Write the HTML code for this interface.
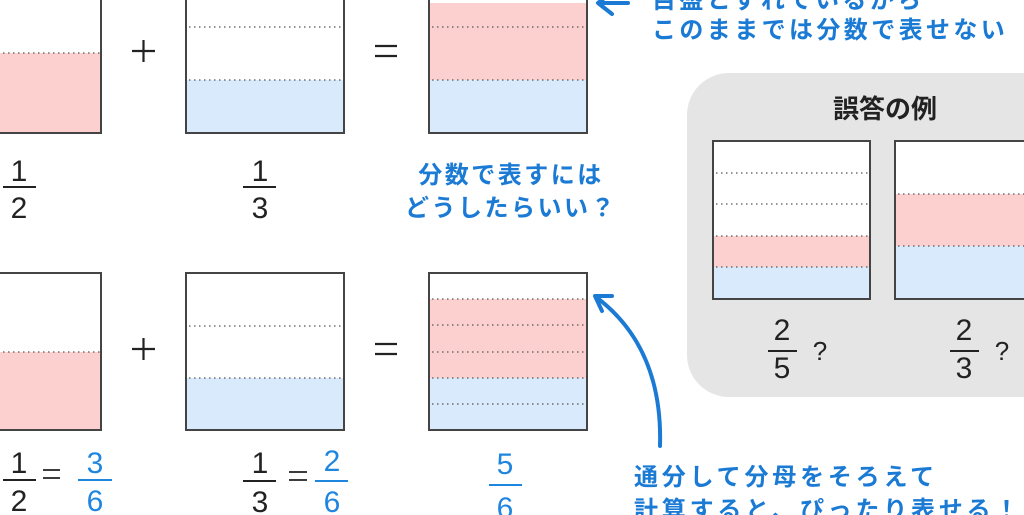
<!DOCTYPE html>
<html><head><meta charset="utf-8"><style>
html,body{margin:0;padding:0;background:#fff;}
svg{display:block;}
.j{font-family:"Liberation Sans","Noto Sans CJK JP",sans-serif;font-weight:bold;fill:#1a7ad4;font-size:24px;}
.n{font-family:"Liberation Sans",sans-serif;font-size:30px;fill:#222;text-anchor:middle;}
.b{fill:#1f86e0;}
</style></head><body>
<svg width="1024" height="515" viewBox="0 0 1024 515" xmlns="http://www.w3.org/2000/svg">
<defs>
<style>.d{stroke:#555;stroke-width:1.3;stroke-dasharray:1.5 3.5;}.bx{fill:none;stroke:#444;stroke-width:2;}</style>
</defs>
<!-- panel -->
<rect x="687" y="73" width="400" height="324" rx="42" fill="#e5e5e5"/>
<text x="885" y="118" text-anchor="middle" style="font-family:'Liberation Sans','Noto Sans CJK JP',sans-serif;font-weight:bold;font-size:26px;fill:#222">誤答の例</text>
<!-- box A -->
<rect x="713" y="141" width="157" height="158" fill="#fff"/>
<rect x="713" y="236" width="157" height="31" fill="#fdd0d0"/>
<rect x="713" y="267" width="157" height="32" fill="#d8eafb"/>
<line x1="716" y1="173" x2="868" y2="173" class="d"/>
<line x1="716" y1="204" x2="868" y2="204" class="d"/>
<line x1="716" y1="236" x2="868" y2="236" class="d"/>
<line x1="716" y1="267" x2="868" y2="267" class="d"/>
<rect x="713" y="141" width="157" height="158" class="bx"/>
<!-- box B -->
<rect x="895" y="141" width="157" height="158" fill="#fff"/>
<rect x="895" y="194" width="157" height="52" fill="#fdd0d0"/>
<rect x="895" y="246" width="157" height="53" fill="#d8eafb"/>
<line x1="898" y1="194" x2="1030" y2="194" class="d"/>
<line x1="898" y1="246" x2="1030" y2="246" class="d"/>
<rect x="895" y="141" width="157" height="158" class="bx"/>
<text class="n" x="782" y="340">2</text><line x1="768" y1="351" x2="797" y2="351" stroke="#222" stroke-width="2"/><text class="n" x="782" y="378">5</text>
<text x="820" y="360" style="font-family:'Liberation Sans',sans-serif;font-size:26px;fill:#222" text-anchor="middle">?</text>
<text class="n" x="964" y="340">2</text><line x1="950" y1="351" x2="979" y2="351" stroke="#222" stroke-width="2"/><text class="n" x="964" y="378">3</text>
<text x="1002" y="360" style="font-family:'Liberation Sans',sans-serif;font-size:26px;fill:#222" text-anchor="middle">?</text>

<!-- Row 1 -->
<rect x="-57" y="53" width="158" height="80" fill="#fdd0d0"/>
<line x1="-57" y1="53" x2="100" y2="53" class="d"/>
<rect x="-57" y="-24" width="158" height="157" class="bx"/>
<rect x="186" y="80" width="158" height="53" fill="#d8eafb"/>
<line x1="189" y1="27" x2="343" y2="27" class="d"/>
<line x1="189" y1="80" x2="343" y2="80" class="d"/>
<rect x="186" y="-24" width="158" height="157" class="bx"/>
<rect x="429" y="3" width="158" height="77" fill="#fdd0d0"/>
<rect x="429" y="80" width="158" height="53" fill="#d8eafb"/>
<line x1="432" y1="27" x2="586" y2="27" class="d"/>
<line x1="432" y1="80" x2="586" y2="80" class="d"/>
<rect x="429" y="-24" width="158" height="157" class="bx"/>
<path d="M132 51 H155 M143.5 40 V62" stroke="#222" stroke-width="2.2"/>
<path d="M375 46 H397 M375 56 H397" stroke="#222" stroke-width="2.2"/>
<text class="n" x="19" y="181">1</text><line x1="3" y1="187" x2="36" y2="187" stroke="#222" stroke-width="2"/><text class="n" x="19" y="218">2</text>
<text class="n" x="260" y="181">1</text><line x1="243" y1="187" x2="276" y2="187" stroke="#222" stroke-width="2"/><text class="n" x="260" y="218">3</text>
<!-- top arrow -->
<path d="M628 3 H599 M612 -8 L598 3 L612 14" fill="none" stroke="#1a7ad4" stroke-width="4" stroke-linecap="round" stroke-linejoin="round"/>
<text class="j" x="652" y="8" style="letter-spacing:3.4px">目盛とずれているから</text>
<text class="j" x="652" y="38" style="letter-spacing:3.4px">このままでは分数で表せない</text>
<text class="j" x="511" y="183" text-anchor="middle" style="letter-spacing:2.5px">分数で表すには</text>
<text class="j" x="511" y="216" text-anchor="middle" style="letter-spacing:2.5px">どうしたらいい？</text>

<!-- Row 2 -->
<rect x="-57" y="352" width="158" height="78" fill="#fdd0d0"/>
<line x1="-57" y1="352" x2="100" y2="352" class="d"/>
<rect x="-57" y="273" width="158" height="157" class="bx"/>
<rect x="186" y="378" width="158" height="52" fill="#d8eafb"/>
<line x1="189" y1="326" x2="343" y2="326" class="d"/>
<line x1="189" y1="378" x2="343" y2="378" class="d"/>
<rect x="186" y="273" width="158" height="157" class="bx"/>
<rect x="429" y="299" width="158" height="79" fill="#fdd0d0"/>
<rect x="429" y="378" width="158" height="52" fill="#d8eafb"/>
<line x1="432" y1="299" x2="586" y2="299" class="d"/>
<line x1="432" y1="325" x2="586" y2="325" class="d"/>
<line x1="432" y1="352" x2="586" y2="352" class="d"/>
<line x1="432" y1="378" x2="586" y2="378" class="d"/>
<line x1="432" y1="404" x2="586" y2="404" class="d"/>
<rect x="429" y="273" width="158" height="157" class="bx"/>
<path d="M132 349 H155 M143.5 338 V360" stroke="#222" stroke-width="2.2"/>
<path d="M375 344 H397 M375 354 H397" stroke="#222" stroke-width="2.2"/>

<text class="n" x="19" y="473">1</text><line x1="3" y1="480" x2="36" y2="480" stroke="#222" stroke-width="2"/><text class="n" x="19" y="511">2</text>
<path d="M43 470 H60 M43 478 H60" stroke="#222" stroke-width="1.8"/>
<text class="n b" x="95" y="473">3</text><line x1="78" y1="480" x2="112" y2="480" stroke="#1f86e0" stroke-width="2"/><text class="n b" x="95" y="511">6</text>
<text class="n" x="260" y="473">1</text><line x1="243" y1="481" x2="276" y2="481" stroke="#222" stroke-width="2"/><text class="n" x="260" y="512">3</text>
<path d="M289 472 H307 M289 480 H307" stroke="#222" stroke-width="1.8"/>
<text class="n b" x="332" y="471">2</text><line x1="315" y1="481" x2="348" y2="481" stroke="#1f86e0" stroke-width="2"/><text class="n b" x="332" y="512">6</text>
<text class="n b" x="505" y="474">5</text><line x1="489" y1="485" x2="522" y2="485" stroke="#1f86e0" stroke-width="2"/><text class="n b" x="505" y="518">6</text>

<!-- curved arrow -->
<path d="M660 446 C662 380 640 330 596 297" fill="none" stroke="#1a7ad4" stroke-width="4" stroke-linecap="round"/>
<path d="M612 296 L595 296 L602 311" fill="none" stroke="#1a7ad4" stroke-width="4" stroke-linecap="round" stroke-linejoin="round"/>
<text class="j" x="634" y="485" style="letter-spacing:3.8px">通分して分母をそろえて</text>
<text class="j" x="634" y="518" style="letter-spacing:3.8px">計算すると、ぴったり表せる！</text>
</svg>
</body></html>
